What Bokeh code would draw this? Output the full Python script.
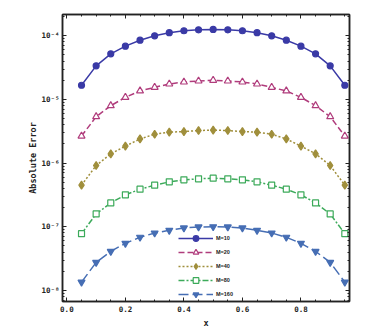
from bokeh.plotting import figure
from bokeh.models import (Range1d, LogAxis, LinearAxis, SingleIntervalTicker, LogTicker,
                          CustomJSTickFormatter, PrintfTickFormatter, Legend, LegendItem)
from bokeh.embed import file_html
from bokeh.resources import INLINE

x = [0.05, 0.10, 0.15, 0.20, 0.25, 0.30, 0.35, 0.40, 0.45, 0.50,
     0.55, 0.60, 0.65, 0.70, 0.75, 0.80, 0.85, 0.90, 0.95]

m10_half = [1.67e-5, 3.37e-5, 5.2e-5, 6.87e-5, 8.53e-5, 1.0e-4, 1.12e-4, 1.2e-4, 1.24e-4, 1.26e-4]
m20_half = [2.66e-6, 5.36e-6, 7.98e-6, 1.08e-5, 1.36e-5, 1.55e-5, 1.75e-5, 1.88e-5, 1.95e-5, 2.0e-5]
m40_half = [4.5e-7, 9.16e-7, 1.4e-6, 1.85e-6, 2.4e-6, 2.84e-6, 3.06e-6, 3.13e-6, 3.25e-6, 3.29e-6]
m80_half = [7.78e-8, 1.59e-7, 2.37e-7, 3.17e-7, 3.89e-7, 4.5e-7, 5.08e-7, 5.46e-7, 5.66e-7, 5.8e-7]
m160_half = [1.35e-8, 2.76e-8, 4.11e-8, 5.5e-8, 6.84e-8, 7.98e-8, 8.8e-8, 9.57e-8, 9.93e-8, 1.0e-7]

def mirror(h):
    return h + h[-2::-1]

series_labels = ["M=10", "M=20", "M=40", "M=80", "M=160"]
series_values = [mirror(m10_half), mirror(m20_half), mirror(m40_half), mirror(m80_half), mirror(m160_half)]
colors = ["#3a3aa6", "#b03c7c", "#a08f3c", "#3caa5a", "#466eb4"]
dashes = ["solid", "6 3", "2 2", "6 2 2 2", "10 4"]
markers = ["circle", "triangle", "diamond", "square", "inverted_triangle"]
filled = [True, False, True, False, True]
msizes = [6, 7, 8, 6, 7]

p = figure(width=382, height=330, output_backend="svg", toolbar_location=None,
           y_axis_type="log", x_range=Range1d(-0.015, 0.966),
           y_range=Range1d(6.7e-9, 2.16e-4),
           min_border_left=62, min_border_right=33, min_border_top=14, min_border_bottom=28)
p.background_fill_color = "white"
p.border_fill_color = "white"
p.outline_line_color = "#222222"
p.outline_line_width = 1.5
p.xgrid.visible = False
p.ygrid.visible = False

font = "DejaVu Sans Mono"
sup = "const s={'-':'\u207b','0':'\u2070','1':'\u00b9','2':'\u00b2','3':'\u00b3','4':'\u2074','5':'\u2075','6':'\u2076','7':'\u2077','8':'\u2078','9':'\u2079'};"
yfmt = CustomJSTickFormatter(code=sup + "const e=Math.round(Math.log10(tick));return '10'+String(e).split('').map(c=>s[c]).join('');")

def style(ax, labels=True):
    ax.major_tick_in = 4
    ax.major_tick_out = 0
    ax.minor_tick_in = 2
    ax.minor_tick_out = 0
    ax.axis_line_color = "#222222"
    ax.axis_line_width = 1.5
    ax.major_tick_line_color = "#222222"
    ax.minor_tick_line_color = "#222222"
    ax.major_label_text_font = font
    ax.major_label_text_font_style = "bold"
    ax.major_label_text_font_size = "7.5px"
    ax.major_label_text_color = "#222222"
    ax.axis_label_text_font = font
    ax.axis_label_text_font_style = "bold"
    ax.axis_label_text_font_size = "8.5px"
    ax.axis_label_text_color = "#222222"
    ax.major_label_standoff = 4 if labels else 0

xt = SingleIntervalTicker(interval=0.2, num_minor_ticks=4)
yt = LogTicker(num_minor_ticks=10)

p.xaxis.ticker = xt
p.xaxis.formatter = PrintfTickFormatter(format="%.1f")
p.xaxis.axis_label = "x"
p.xaxis.axis_label_standoff = 3
p.yaxis.ticker = yt
p.yaxis.formatter = yfmt
p.yaxis.axis_label = "Absolute Error"
p.yaxis.axis_label_standoff = 0
style(p.xaxis[0])
style(p.yaxis[0])
p.yaxis.major_label_standoff = 3

blank = CustomJSTickFormatter(code="return ''")
top = LinearAxis(ticker=SingleIntervalTicker(interval=0.2, num_minor_ticks=4), formatter=blank)
right = LogAxis(ticker=LogTicker(num_minor_ticks=10), formatter=blank)
style(top, labels=False)
style(right, labels=False)
p.add_layout(top, "above")
p.add_layout(right, "right")

items = []
for lab, vals, c, d, m, f, s in zip(series_labels, series_values, colors, dashes, markers, filled, msizes):
    r1 = p.line(x, vals, line_color=c, line_width=1.5, line_dash=d)
    r2 = p.scatter(x, vals, marker=m, size=s, line_color=c, line_width=1.2,
                   fill_color=c if f else "white")
    items.append(LegendItem(label=lab, renderers=[r1, r2]))

legend = Legend(items=items, location=(116, 0), orientation="vertical",
                glyph_width=35, glyph_height=14, spacing=0, padding=0, margin=0,
                label_standoff=3, label_text_font="Liberation Sans",
                label_text_font_style="bold", label_text_font_size="5.5px",
                label_text_color="#222222", label_height=14,
                border_line_color=None, background_fill_alpha=0)
p.add_layout(legend, "center")

open("out.html", "w").write(file_html(p, INLINE))
